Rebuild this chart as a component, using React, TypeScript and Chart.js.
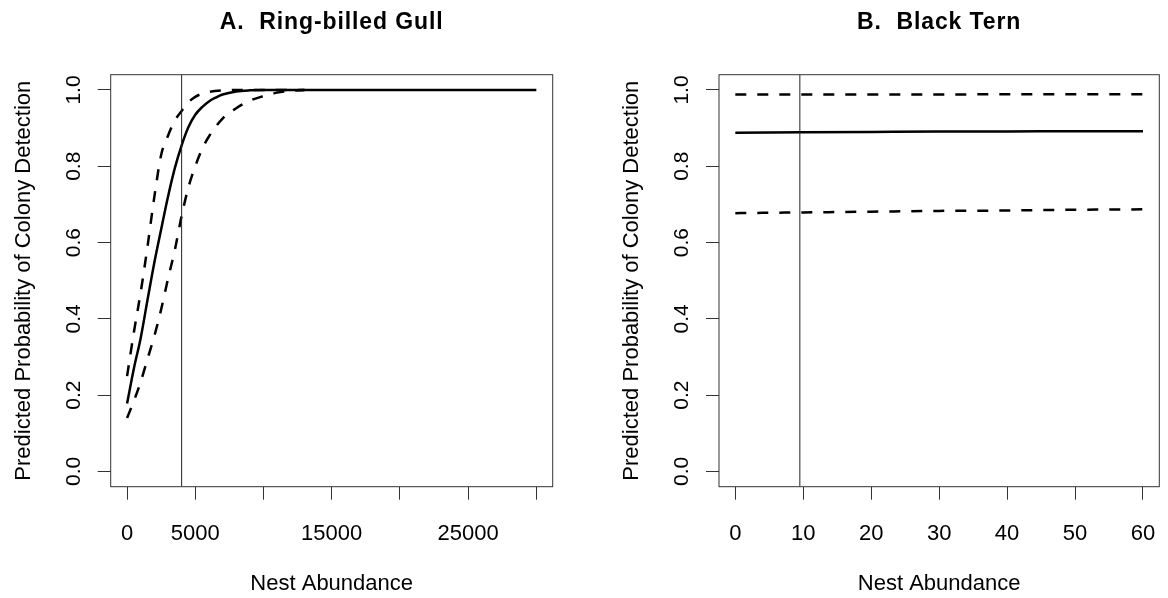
import React, { useEffect, useRef } from 'react';
import { Chart, registerables } from 'chart.js';

Chart.register(...registerables);

// ---------- Data ----------
// Panel A: Ring-billed Gull
const gullFitX = [0, 500, 1000, 1500, 2000, 2500, 3000, 3500, 4000, 4500, 5000, 5500, 6000, 6500, 7000, 8000, 9000, 10000, 15000, 20000, 25000, 30000];
const gullFit = [0.178, 0.27, 0.35, 0.45, 0.548, 0.635, 0.72, 0.795, 0.855, 0.903, 0.935, 0.955, 0.97, 0.98, 0.988, 0.996, 0.999, 1.0, 1.0, 1.0, 1.0, 1.0];
const gullCiX = [0, 500, 1000, 1500, 2000, 2500, 3000, 3500, 4000, 4500, 5000, 5500, 6000, 7000, 8000, 9000, 10000, 11000, 12000, 13000];
const gullUpper = [0.25, 0.365, 0.47, 0.59, 0.72, 0.83, 0.88, 0.92, 0.945, 0.968, 0.982, 0.99, 0.995, 0.999, 1.0, 1.0, 1.0, 1.0, 1.0, 1.0];
const gullLower = [0.14, 0.185, 0.235, 0.295, 0.355, 0.425, 0.505, 0.58, 0.67, 0.745, 0.8, 0.845, 0.878, 0.925, 0.952, 0.972, 0.984, 0.993, 0.998, 1.0];
const gullVline = 4000;
const gullXRange = [-1200, 31200];
const gullXTicks = [0, 5000, 10000, 15000, 20000, 25000, 30000];
const gullXTickLabels = ['0', '5000', '', '15000', '', '25000', ''];

// Panel B: Black Tern
const ternX = [0, 10, 20, 30, 40, 50, 60];
const ternFit = [0.888, 0.889, 0.89, 0.891, 0.891, 0.892, 0.892];
const ternUpper = [0.988, 0.988, 0.988, 0.988, 0.989, 0.989, 0.989];
const ternLower = [0.677, 0.679, 0.681, 0.683, 0.684, 0.686, 0.687];
const ternVline = 9.5;
const ternXRange = [-2.4, 62.4];
const ternXTicks = [0, 10, 20, 30, 40, 50, 60];
const ternXTickLabels = ['0', '10', '20', '30', '40', '50', '60'];

// Shared y axis
const yRange = [-0.04, 1.04];
const yTicks = [0, 0.2, 0.4, 0.6, 0.8, 1.0];
const yTickLabels = ['0.0', '0.2', '0.4', '0.6', '0.8', '1.0'];

const titleA = 'A.  Ring-billed Gull';
const titleB = 'B.  Black Tern';
const xTitle = 'Nest Abundance';
const yTitle = 'Predicted Probability of Colony Detection';

const FONT = '"Liberation Sans", Arial, Helvetica, sans-serif';
const W = 584;
const H = 598;

const pts = (xs: number[], ys: number[]) => xs.map((x, i) => ({ x, y: ys[i] }));

const textPlugin = {
  id: 'rtext',
  afterDraw(chart: any, _args: any, opts: any) {
    const { ctx, chartArea: ca, scales } = chart;
    ctx.save();
    // box
    ctx.strokeStyle = '#333';
    ctx.lineWidth = 1;
    ctx.strokeRect(ca.left, ca.top, ca.right - ca.left, ca.bottom - ca.top);

    ctx.fillStyle = '#000';
    // title
    ctx.font = `bold 23px ${FONT}`;
    (ctx as any).letterSpacing = '0.9px';
    ctx.textAlign = 'center';
    ctx.textBaseline = 'alphabetic';
    ctx.fillText(opts.title, (ca.left + ca.right) / 2, ca.top - 45.7);
    (ctx as any).letterSpacing = '0px';

    // x tick labels
    ctx.font = `22px ${FONT}`;
    opts.xTicks.forEach((v: number, i: number) => {
      const lab = opts.xTickLabels[i];
      if (!lab) return;
      ctx.fillText(lab, scales.x.getPixelForValue(v), ca.bottom + 53.3);
    });
    // x title
    ctx.fillText(opts.xTitle, (ca.left + ca.right) / 2, ca.bottom + 103.5);

    // y tick labels (rotated)
    ctx.font = `21px ${FONT}`;
    yTicks.forEach((v, i) => {
      const y = scales.y.getPixelForValue(v);
      ctx.save();
      ctx.translate(ca.left - 30.7, y);
      ctx.rotate(-Math.PI / 2);
      ctx.fillText(yTickLabels[i], 0, 0);
      ctx.restore();
    });
    // y title
    ctx.font = `22px ${FONT}`;
    ctx.save();
    ctx.translate(ca.left - 80.7, (ca.top + ca.bottom) / 2);
    ctx.rotate(-Math.PI / 2);
    ctx.fillText(opts.yTitle, 0, 0);
    ctx.restore();

    ctx.restore();
  },
};

type PanelProps = {
  left: number;
  title: string;
  fitX: number[];
  fit: number[];
  ciX: number[];
  upper: number[];
  lower: number[];
  vline: number;
  xRange: number[];
  xTicks: number[];
  xTickLabels: string[];
  area: { left: number; right: number; top: number; bottom: number };
};

function Panel(p: PanelProps) {
  const ref = useRef<HTMLCanvasElement | null>(null);
  useEffect(() => {
    if (!ref.current) return;
    const lineBase = { showLine: true, pointRadius: 0, pointHoverRadius: 0, fill: false, borderColor: '#000', cubicInterpolationMode: 'monotone' as const };
    const chart = new Chart(ref.current, {
      type: 'scatter',
      data: {
        datasets: [
          {
            data: [{ x: p.vline, y: yRange[0] }, { x: p.vline, y: yRange[1] }],
            showLine: true, pointRadius: 0, borderColor: '#222', borderWidth: 1,
          },
          { ...lineBase, data: pts(p.fitX, p.fit), borderWidth: 2.5 },
          { ...lineBase, data: pts(p.ciX, p.upper), borderWidth: 2.5, borderDash: [11, 11] },
          { ...lineBase, data: pts(p.ciX, p.lower), borderWidth: 2.5, borderDash: [11, 11] },
        ] as any,
      },
      options: {
        responsive: false,
        animation: false,
        events: [],
        layout: { padding: { top: p.area.top, right: W - p.area.right, left: 0, bottom: 0 } },
        plugins: {
          legend: { display: false },
          tooltip: { enabled: false },
          title: { display: false },
          rtext: { title: p.title, xTicks: p.xTicks, xTickLabels: p.xTickLabels, xTitle, yTitle },
        } as any,
        scales: {
          x: {
            type: 'linear',
            min: p.xRange[0],
            max: p.xRange[1],
            afterBuildTicks: (s: any) => { s.ticks = p.xTicks.map((v) => ({ value: v })); },
            afterFit: (s: any) => { s.height = H - p.area.bottom; },
            ticks: { display: false },
            grid: { drawOnChartArea: false, drawTicks: true, tickLength: 13, color: '#333', lineWidth: 1 },
            border: { display: false },
          },
          y: {
            type: 'linear',
            min: yRange[0],
            max: yRange[1],
            afterBuildTicks: (s: any) => { s.ticks = yTicks.map((v) => ({ value: v })); },
            afterFit: (s: any) => { s.width = p.area.left; },
            ticks: { display: false },
            grid: { drawOnChartArea: false, drawTicks: true, tickLength: 13, color: '#333', lineWidth: 1 },
            border: { display: false },
          },
        } as any,
      },
      plugins: [textPlugin as any],
    });
    return () => chart.destroy();
  }, []);
  return (
    <canvas
      ref={ref}
      width={W}
      height={H}
      style={{ position: 'absolute', left: p.left, top: 0, width: W, height: H }}
    />
  );
}

export default function App() {
  return (
    <div style={{ position: 'fixed', left: 0, top: 0, width: 1168, height: 598, background: '#fff', overflow: 'hidden' }}>
      <Panel
        left={0}
        title={titleA}
        fitX={gullFitX}
        fit={gullFit}
        ciX={gullCiX}
        upper={gullUpper}
        lower={gullLower}
        vline={gullVline}
        xRange={gullXRange}
        xTicks={gullXTicks}
        xTickLabels={gullXTickLabels}
        area={{ left: 110.7, right: 552.7, top: 74.7, bottom: 486.7 }}
      />
      <Panel
        left={584}
        title={titleB}
        fitX={ternX}
        fit={ternFit}
        ciX={ternX}
        upper={ternUpper}
        lower={ternLower}
        vline={ternVline}
        xRange={ternXRange}
        xTicks={ternXTicks}
        xTickLabels={ternXTickLabels}
        area={{ left: 135, right: 575.3, top: 74.7, bottom: 486.7 }}
      />
    </div>
  );
}
